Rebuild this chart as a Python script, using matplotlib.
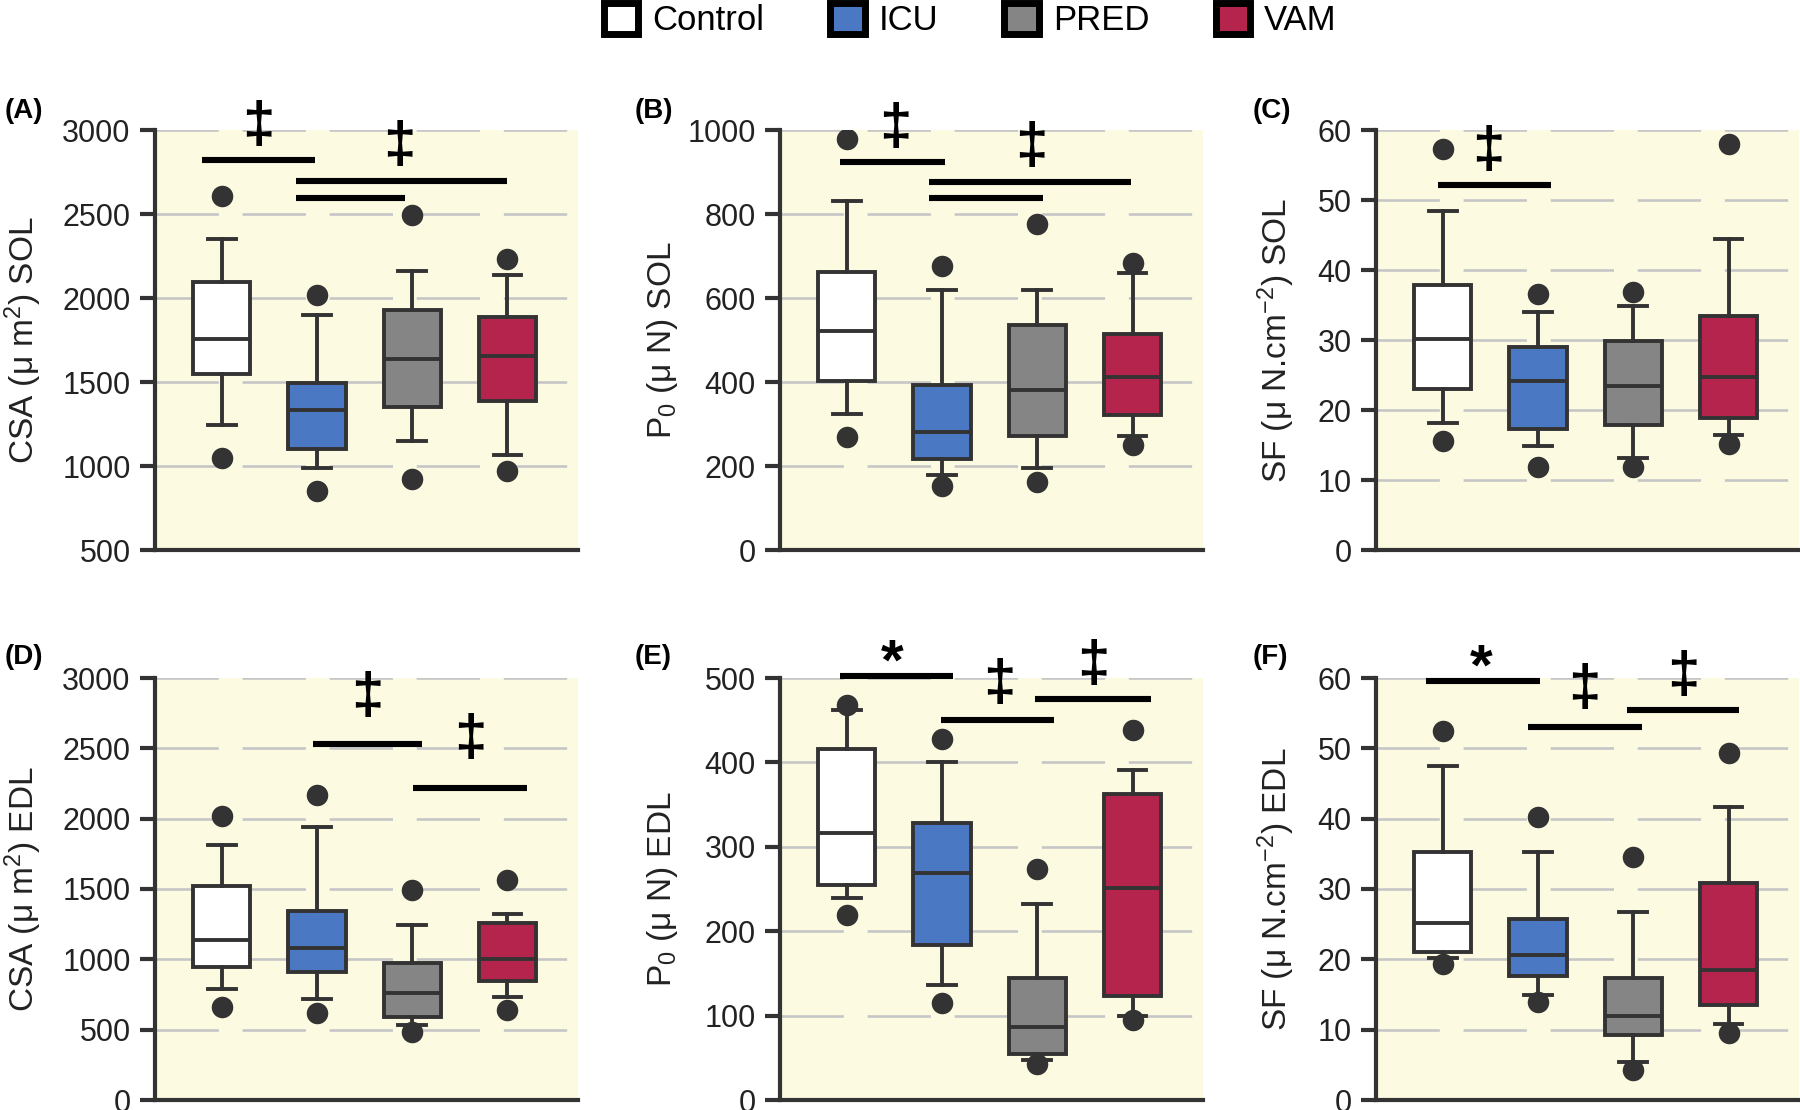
import matplotlib
matplotlib.use('Agg')
import matplotlib.pyplot as plt
from matplotlib.patches import Patch

plt.rcParams['font.family'] = ['Liberation Sans', 'DejaVu Sans']
plt.rcParams['mathtext.fontset'] = 'custom'
plt.rcParams['mathtext.rm'] = 'Liberation Sans'
plt.rcParams['mathtext.it'] = 'Liberation Sans:italic'

groups = ['Control', 'ICU', 'PRED', 'VAM']
colors = ['#FFFFFF', '#4A78C2', '#858585', '#B5244C']

# (A) CSA SOL
a_whishi = [2350, 1897, 2163, 2138]
a_q3 = [2094, 1493, 1930, 1887]
a_med = [1757, 1335, 1635, 1654]
a_q1 = [1546, 1102, 1354, 1388]
a_whislo = [1244, 987, 1151, 1066]
a_out_hi = [2607, 2019, 2493, 2232]
a_out_lo = [1047, 849, 924, 968]

# (B) P0 SOL
b_whishi = [830, 618, 620, 659]
b_q3 = [661, 392, 535, 515]
b_med = [521, 282, 381, 412]
b_q1 = [402, 217, 271, 321]
b_whislo = [325, 179, 196, 272]
b_out_hi = [979, 677, 777, 684]
b_out_lo = [270, 152, 163, 249]

# (C) SF SOL
c_whishi = [48.4, 34.0, 34.9, 44.5]
c_q3 = [37.8, 29.0, 29.8, 33.5]
c_med = [30.2, 24.2, 23.4, 24.7]
c_q1 = [23.0, 17.3, 17.8, 18.9]
c_whislo = [18.1, 14.8, 13.2, 16.5]
c_out_hi = [57.3, 36.6, 36.8, 58.0]
c_out_lo = [15.6, 11.8, 11.9, 15.2]

# (D) CSA EDL
d_whishi = [1810, 1938, 1245, 1321]
d_q3 = [1523, 1345, 977, 1257]
d_med = [1138, 1079, 759, 1001]
d_q1 = [944, 913, 593, 849]
d_whislo = [790, 719, 534, 735]
d_out_hi = [2016, 2165, 1494, 1565]
d_out_lo = [664, 617, 486, 640]

# (E) P0 EDL
e_whishi = [462, 400, 232, 391]
e_q3 = [416, 328, 144, 362]
e_med = [316, 269, 87, 251]
e_q1 = [255, 184, 54, 123]
e_whislo = [239, 136, 47, 100]
e_out_hi = [468, 428, 274, 438]
e_out_lo = [219, 115, 43, 95]

# (F) SF EDL
f_whishi = [47.5, 35.3, 26.8, 41.7]
f_q3 = [35.3, 25.8, 17.4, 30.8]
f_med = [25.2, 20.6, 12.0, 18.5]
f_q1 = [21.0, 17.7, 9.2, 13.5]
f_whislo = [20.2, 14.9, 5.4, 10.8]
f_out_hi = [52.4, 40.2, 34.5, 49.3]
f_out_lo = [19.4, 14.0, 4.3, 9.5]

# significance bars: (x start, x end, y) and marks: (x, y, symbol)
a_bars = [(0.79, 1.98, 2824), (1.78, 3.99, 2696), (1.78, 2.92, 2597)]
a_marks = [(1.39, 3018, '‡'), (2.86, 2899, '‡')]
b_bars = [(0.93, 2.03, 923), (1.86, 3.98, 876), (1.86, 3.06, 837)]
b_marks = [(1.51, 1002, '‡'), (2.94, 956, '‡')]
c_bars = [(0.95, 2.14, 52.2)]
c_marks = [(1.48, 56.9, '‡')]
d_bars = [(1.96, 3.10, 2533), (3.01, 4.20, 2217)]
d_marks = [(2.53, 2861, '‡'), (3.61, 2556, '‡')]
e_bars = [(0.93, 2.12, 502), (1.99, 3.18, 450), (2.98, 4.19, 475)]
e_marks = [(1.48, 498, '*'), (2.60, 492, '‡'), (3.59, 514, '‡')]
f_bars = [(0.82, 2.02, 59.6), (1.90, 3.09, 53.1), (2.93, 4.11, 55.5)]
f_marks = [(1.40, 59.0, '*'), (2.49, 58.3, '‡'), (3.53, 60.1, '‡')]

ylabels = ['CSA (μ $\\mathrm{m}^{2}$) SOL', '$\\mathrm{P}_{0}$ (μ N) SOL',
           'SF (μ N.$\\mathrm{cm}^{-2}$) SOL', 'CSA (μ $\\mathrm{m}^{2}$) EDL',
           '$\\mathrm{P}_{0}$ (μ N) EDL', 'SF (μ N.$\\mathrm{cm}^{-2}$) EDL']
panel_tags = ['(A)', '(B)', '(C)', '(D)', '(E)', '(F)']
ylims = [(500, 3000), (0, 1000), (0, 60), (0, 3000), (0, 500), (0, 60)]
ysteps = [500, 200, 10, 500, 100, 10]

panels = [
    (a_whishi, a_q3, a_med, a_q1, a_whislo, a_out_hi, a_out_lo, a_bars, a_marks),
    (b_whishi, b_q3, b_med, b_q1, b_whislo, b_out_hi, b_out_lo, b_bars, b_marks),
    (c_whishi, c_q3, c_med, c_q1, c_whislo, c_out_hi, c_out_lo, c_bars, c_marks),
    (d_whishi, d_q3, d_med, d_q1, d_whislo, d_out_hi, d_out_lo, d_bars, d_marks),
    (e_whishi, e_q3, e_med, e_q1, e_whislo, e_out_hi, e_out_lo, e_bars, e_marks),
    (f_whishi, f_q3, f_med, f_q1, f_whislo, f_out_hi, f_out_lo, f_bars, f_marks),
]

W, H = 1800, 1110
fig = plt.figure(figsize=(18, 11.1), dpi=100)

lefts = [155, 780, 1376]
tops = [130, 678]
bottoms = [550, 1100]
axw = 423
label_x = [-0.262, -0.236, -0.186]
tag_x = [5, 635, 1253]
tag_y = [111, 657]

dark = '#333333'
for i, (whi, q3, med, q1, wlo, ohi, olo, bars, marks) in enumerate(panels):
    r, c = divmod(i, 3)
    ax = fig.add_axes([lefts[c] / W, 1 - bottoms[r] / H, axw / W, (bottoms[r] - tops[r]) / H])
    ax.set_facecolor('#FDFAE2')
    stats = []
    for k in range(4):
        stats.append(dict(med=med[k], q1=q1[k], q3=q3[k], whislo=wlo[k], whishi=whi[k],
                          fliers=[olo[k], ohi[k]]))
    bp = ax.bxp(stats, positions=[1, 2, 3, 4], widths=0.6, capwidths=0.29,
                patch_artist=True, showfliers=True,
                boxprops=dict(edgecolor=dark, linewidth=2.8),
                whiskerprops=dict(color=dark, linewidth=2.8),
                capprops=dict(color=dark, linewidth=2.8),
                medianprops=dict(color=dark, linewidth=2.8),
                flierprops=dict(marker='o', markersize=15.5, markerfacecolor=dark,
                                markeredgewidth=0))
    for patch, col in zip(bp['boxes'], colors):
        patch.set_facecolor(col)
    for fl in bp['fliers']:
        fl.set_zorder(4)

    lo, hi = ylims[i]
    ax.set_ylim(lo, hi)
    ax.set_xlim(0.3, 4.74)
    ax.set_yticks(list(range(lo, hi + 1, ysteps[i])))
    ax.set_xticks([])
    ax.set_axisbelow(True)
    ax.yaxis.grid(True, color='#C6C6C6', linewidth=1.9, linestyle=(0, (24, 9)))
    for s in ['top', 'right']:
        ax.spines[s].set_visible(False)
    for s in ['left', 'bottom']:
        ax.spines[s].set_color(dark)
        ax.spines[s].set_linewidth(3.0)
    ax.tick_params(axis='y', length=10.5, width=3.0, color=dark, labelsize=22,
                   labelcolor='#222222', pad=7)
    ax.set_ylabel(ylabels[i], fontsize=24, color='#222222')
    ax.yaxis.set_label_coords(label_x[c], 0.5)

    for x0, x1, y in bars:
        ax.plot([x0, x1], [y, y], color='black', linewidth=4.4,
                solid_capstyle='butt', clip_on=False, zorder=5)
    for x, y, sym in marks:
        va = 'baseline' if sym == '*' else 'center'
        ax.text(x, y, sym, ha='center', va=va, fontsize=42, fontweight='bold',
                color='black', clip_on=False, zorder=5)

    fig.text(tag_x[c] / W, 1 - tag_y[r] / H, panel_tags[i], fontsize=20,
             fontweight='bold', ha='left', va='center')

handles = [Patch(facecolor=col, edgecolor='black', linewidth=5) for col in colors]
fig.legend(handles, groups, loc='center', bbox_to_anchor=(0.539, 0.982), ncol=4,
           frameon=False, fontsize=25, handlelength=1.0, handleheight=1.0,
           handletextpad=0.4, columnspacing=1.9, borderaxespad=0)

fig.savefig('out.png', dpi=100)
